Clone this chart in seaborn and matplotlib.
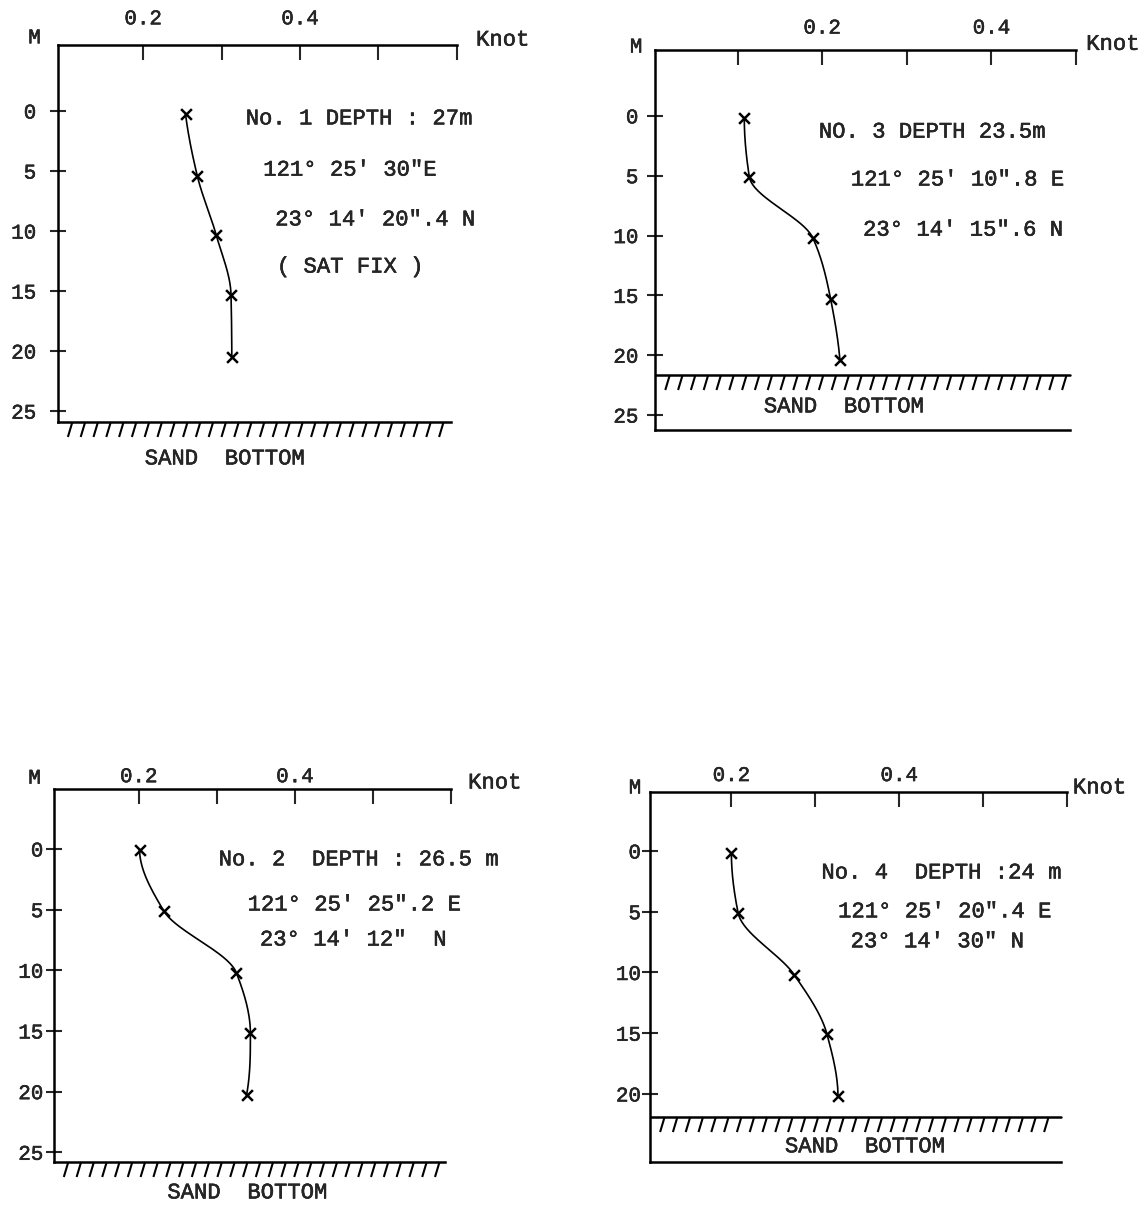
"""
Current-speed profiles (knot) against depth (m) at four stations,
redrawn from a typewritten survey figure.
"""

import numpy as np
import pandas as pd
import seaborn as sns
import matplotlib.pyplot as plt
import matplotlib.patheffects as pe
from matplotlib.collections import LineCollection

depth_no1 = [0.25, 5.4, 10.3, 15.3, 20.5]
speed_no1 = [0.254, 0.269, 0.293, 0.312, 0.313]

depth_no2 = [0.05, 5.1, 10.2, 15.2, 20.3]
speed_no2 = [0.201, 0.232, 0.325, 0.343, 0.338]

depth_no3 = [0.15, 5.1, 10.2, 15.3, 20.4]
speed_no3 = [0.108, 0.114, 0.189, 0.210, 0.221]

depth_no4 = [0.2, 5.1, 10.2, 15.1, 20.2]
speed_no4 = [0.200, 0.208, 0.275, 0.314, 0.327]

# sea bed as drawn on each panel (m)
seabed_depths = {"No. 1": 25.9, "No. 2": 25.8, "No. 3": 21.65, "No. 4": 21.9}

station_notes = {
    "No. 1": ["No. 1 DEPTH : 27m", "121° 25' 30\"E",
              "23° 14' 20\".4 N", "( SAT FIX )"],
    "No. 2": ["No. 2  DEPTH : 26.5 m", "121° 25' 25\".2 E",
              "23° 14' 12\"  N"],
    "No. 3": ["NO. 3 DEPTH 23.5m", "121° 25' 10\".8 E",
              "23° 14' 15\".6 N"],
    "No. 4": ["No. 4  DEPTH :24 m", "121° 25' 20\".4 E",
              "23° 14' 30\" N"],
}

depth_ticks = [0, 5, 10, 15, 20, 25]
speed_ticks_a = [0.2, 0.3, 0.4, 0.5, 0.6]
speed_ticks_b = [0.1, 0.2, 0.3, 0.4, 0.5]

# typewriter ink is a little heavier than the plain mono face
INK = [pe.withStroke(linewidth=0.35, foreground="black")]


def smooth_profile(depth, speed, n=40):
    """
    Monotone cubic (PCHIP) curve of speed as a function of depth,
    used only to draw the hand-smoothed line through the measured points.
    """
    x = np.asarray(depth, float)
    y = np.asarray(speed, float)
    h = np.diff(x)
    delta = np.diff(y) / h
    d = np.zeros_like(y)
    for k in range(1, len(x) - 1):
        if delta[k - 1] * delta[k] > 0:
            w1 = 2 * h[k] + h[k - 1]
            w2 = h[k] + 2 * h[k - 1]
            d[k] = (w1 + w2) / (w1 / delta[k - 1] + w2 / delta[k])
    for i, (a, b, ha, hb) in ((0, (delta[0], delta[1], h[0], h[1])),
                              (-1, (delta[-1], delta[-2], h[-1], h[-2]))):
        end = ((2 * ha + hb) * a - ha * b) / (ha + hb)
        if np.sign(end) != np.sign(a):
            end = 0.0
        elif np.sign(a) != np.sign(b) and abs(end) > 3 * abs(a):
            end = 3 * a
        d[i] = end

    xs, ys = [], []
    for k in range(len(x) - 1):
        t = np.linspace(0, 1, n)
        h00 = 2 * t**3 - 3 * t**2 + 1
        h10 = t**3 - 2 * t**2 + t
        h01 = -2 * t**3 + 3 * t**2
        h11 = t**3 - t**2
        xs.append(x[k] + t * h[k])
        ys.append(h00 * y[k] + h10 * h[k] * d[k]
                  + h01 * y[k + 1] + h11 * h[k] * d[k + 1])
    return np.concatenate(xs), np.concatenate(ys)


def draw_station(fig, rect, name, depth, speed, xlim, ylim, xticks,
                 yticks, text_pos, pads, corner_pos, sand_pos):
    """
    Draws one station panel: profile, axes in the survey style,
    sea-bed hatching and the typed station notes.
    """
    ax = fig.add_axes(rect)
    df = pd.DataFrame({"Depth": depth, "Speed": speed})
    curve_depth, curve_speed = smooth_profile(depth, speed)

    sns.lineplot(x=curve_speed, y=curve_depth, sort=False, estimator=None,
                 color="black", linewidth=1.2, ax=ax)
    sns.scatterplot(data=df, x="Speed", y="Depth", marker="x", s=60,
                    color="black", linewidth=1.8, ax=ax, zorder=3)

    ax.set_xlim(*xlim)
    ax.set_ylim(*ylim)
    ax.set_xlabel("")
    ax.set_ylabel("")

    ax.xaxis.tick_top()
    ax.set_xticks(xticks)
    ax.set_xticklabels(["0.2" if abs(t - 0.2) < 1e-9 else
                        "0.4" if abs(t - 0.4) < 1e-9 else ""
                        for t in xticks])
    ax.set_yticks(yticks)
    ax.set_yticklabels([str(t) for t in yticks])
    ax.tick_params(axis="x", direction="in", length=11, width=1.5,
                   pad=pads[0], labelsize=15, top=True, bottom=False,
                   labeltop=True, labelbottom=False)
    ax.tick_params(axis="y", direction="inout", length=12, width=1.5,
                   pad=pads[1], labelsize=15)
    for label in ax.get_xticklabels() + ax.get_yticklabels():
        label.set_path_effects(INK)

    ax.spines["right"].set_visible(False)
    for side in ("top", "left", "bottom"):
        ax.spines[side].set_linewidth(1.8)
        ax.spines[side].set_color("black")
    ax.spines["bottom"].set_bounds(xlim[0],
                                   xlim[0] + 0.985 * (xlim[1] - xlim[0]))

    # sea bed line with hatching underneath
    seabed = seabed_depths[name]
    width_px = rect[2] * fig.get_figwidth() * fig.dpi
    height_px = rect[3] * fig.get_figheight() * fig.dpi
    bed = (ylim[0] - seabed) / (ylim[0] - ylim[1])
    if bed > 0.001:
        ax.axhline(seabed, xmin=0, xmax=0.985, color="black", linewidth=1.8)
    tops = np.arange(0.035, 0.985, 12.8 / width_px)
    lean = 4.5 / width_px
    drop = 15 / height_px
    strokes = [[(t - lean, bed - drop), (t, bed)] for t in tops]
    ax.add_collection(LineCollection(strokes, colors="black", linewidths=1.5,
                                     transform=ax.transAxes, clip_on=False))
    ax.text(sand_pos[0], sand_pos[1], "SAND  BOTTOM", transform=ax.transAxes,
            ha="center", va="center", fontsize=16, path_effects=INK)

    # axis names in the corners
    ax.text(corner_pos[0], corner_pos[1], "M", transform=ax.transAxes,
            ha="center", va="center", fontsize=15, path_effects=INK)
    ax.text(corner_pos[2], corner_pos[3], "Knot", transform=ax.transAxes,
            ha="left", va="center", fontsize=16, path_effects=INK)

    for line, (tx, ty) in zip(station_notes[name], text_pos):
        ax.text(tx, ty, line, transform=ax.transAxes, ha="left",
                va="center", fontsize=16, path_effects=INK)
    return ax


def main():
    sns.set_style("ticks")
    plt.rcParams["font.family"] = ["Liberation Mono", "DejaVu Sans"]

    fig = plt.figure(figsize=(11.46, 12.06), dpi=100)

    draw_station(fig, [0.0510, 0.6501, 0.3477, 0.3126], "No. 1",
                 depth_no1, speed_no1, (0.092, 0.6), (25.9, -5.5),
                 speed_ticks_a, depth_ticks,
                 [(0.470, 0.804), (0.514, 0.668), (0.544, 0.536),
                  (0.548, 0.411)],
                 (12, 10), (-0.060, 1.019, 1.048, 1.013), (0.418, -0.098))

    draw_station(fig, [0.5716, 0.6434, 0.3674, 0.3151], "No. 3",
                 depth_no3, speed_no3, (0.0026, 0.5), (26.25, -5.5),
                 speed_ticks_b, depth_ticks,
                 [(0.389, 0.784), (0.465, 0.658), (0.494, 0.526)],
                 (9, 6), (-0.045, 1.008, 1.024, 1.015), (0.449, 0.061))

    draw_station(fig, [0.0475, 0.0365, 0.3461, 0.3093], "No. 2",
                 depth_no2, speed_no2, (0.092, 0.6), (25.8, -4.95),
                 speed_ticks_a, depth_ticks,
                 [(0.414, 0.810), (0.487, 0.689), (0.518, 0.595)],
                 (2, 2), (-0.050, 1.029, 1.043, 1.016), (0.487, -0.083))

    draw_station(fig, [0.5672, 0.0365, 0.3639, 0.3068], "No. 4",
                 depth_no4, speed_no4, (0.103, 0.6), (25.6, -4.86),
                 speed_ticks_a, depth_ticks[:-1],
                 [(0.411, 0.781), (0.451, 0.676), (0.481, 0.595)],
                 (5, 0.5), (-0.036, 1.011, 1.014, 1.011), (0.516, 0.041))

    fig.savefig("out.png", dpi=100, facecolor="white")


if __name__ == "__main__":
    main()
